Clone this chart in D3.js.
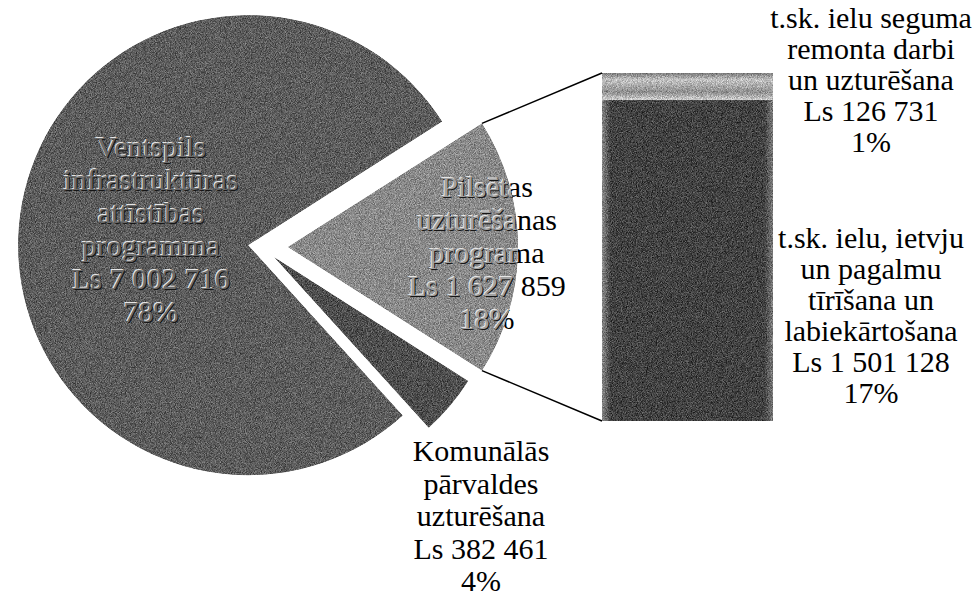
<!DOCTYPE html>
<html>
<head>
<meta charset="utf-8">
<script src="https://cdn.jsdelivr.net/npm/d3@7"></script>
<style>
  html, body { margin: 0; padding: 0; background: #fff; }
  svg { display: block; }
</style>
</head>
<body>
<div id="chart"></div>
<script>
// pie data (order = drawing order, starting with the split-off slice on the right)
const pieNames = ["Pilsētas uzturēšanas programa", "Komunālās pārvaldes uzturēšana", "Ventspils infrastruktūras attīstības programma"];
const pieValues = [1627859, 382461, 7002716];
const pieLabels = [
    ["Pilsētas", "uzturēšanas", "programa", "Ls 1 627 859", "18%"],
    ["Komunālās", "pārvaldes", "uzturēšana", "Ls 382 461", "4%"],
    ["Ventspils", "infrastruktūras", "attīstības", "programma", "Ls 7 002 716", "78%"]
];

// bar (breakdown of the Pilsētas slice), bottom to top
const barNames = ["t.sk. ielu, ietvju un pagalmu tīrīšana un labiekārtošana", "t.sk. ielu seguma remonta darbi un uzturēšana"];
const barValues = [1501128, 126731];
const barLabels = [
    ["t.sk. ielu, ietvju", "un pagalmu", "tīrīšana un", "labiekārtošana", "Ls 1 501 128", "17%"],
    ["t.sk. ielu seguma", "remonta darbi", "un uzturēšana", "Ls 126 731", "1%"]
];

const width = 973, height = 597;
const cx = 262, cy = 247, radius = 230;
const explode = [26, 16, 14];
const sliceFill = ["#898989", "#4e4e4e", "#5c5c5c"];

const svg = d3.select("#chart").append("svg").attr("width", width).attr("height", height);
const defs = svg.append("defs");

// grainy look of the scanned original
const grain = defs.append("filter").attr("id", "grain")
    .attr("color-interpolation-filters", "sRGB")
    .attr("x", 0).attr("y", 0).attr("width", 1).attr("height", 1);
grain.append("feTurbulence").attr("type", "fractalNoise").attr("baseFrequency", 1.2).attr("numOctaves", 1).attr("seed", 3).attr("result", "noise");
grain.append("feColorMatrix").attr("in", "noise").attr("type", "matrix")
    .attr("values", "1 0 0 0 0  1 0 0 0 0  1 0 0 0 0  0 0 0 0 1").attr("result", "gray");
grain.append("feComposite").attr("in", "SourceGraphic").attr("in2", "gray").attr("operator", "arithmetic")
    .attr("k1", 0).attr("k2", 1).attr("k3", 0.7).attr("k4", -0.35).attr("result", "mix");
grain.append("feComposite").attr("in", "mix").attr("in2", "SourceGraphic").attr("operator", "in");

// split-off slice centered on the right horizontal
const total = d3.sum(pieValues);
const splitAngle = 2 * Math.PI * pieValues[0] / total;
const start = Math.PI / 2 - splitAngle / 2;
const pie = d3.pie().sort(null).value(d => d).startAngle(start).endAngle(start + 2 * Math.PI);
const arcs = pie(pieValues);
const arc = d3.arc().innerRadius(0).outerRadius(radius);

function offset(d, i) {
    const mid = (d.startAngle + d.endAngle) / 2;
    return [cx + explode[i] * Math.sin(mid), cy - explode[i] * Math.cos(mid)];
}

const slices = svg.append("g");
arcs.forEach((d, i) => {
    const [ox, oy] = offset(d, i);
    defs.append("clipPath").attr("id", "clip" + i)
        .append("path").attr("d", arc(d)).attr("transform", `translate(${ox},${oy})`);
    slices.append("path")
        .attr("d", arc(d))
        .attr("transform", `translate(${ox},${oy})`)
        .attr("fill", sliceFill[i])
        .attr("filter", "url(#grain)");
});

// bar
const barX0 = 602, barX1 = 773;
const y = d3.scaleLinear().domain([0, d3.sum(barValues)]).range([421, 73]);
const cum = d3.cumsum(barValues);

const gBar = defs.append("linearGradient").attr("id", "barSide");
[[0, "#8a8a8a"], [0.05, "#424242"], [0.95, "#424242"], [1, "#7a7a7a"]].forEach(([o, c]) =>
    gBar.append("stop").attr("offset", o).attr("stop-color", c));
const gTop = defs.append("linearGradient").attr("id", "barTop").attr("x1", 0).attr("y1", 0).attr("x2", 0).attr("y2", 1);
[[0, "#7a7a7a"], [0.25, "#c4c4c4"], [0.7, "#8e8e8e"], [1, "#d0d0d0"]].forEach(([o, c]) =>
    gTop.append("stop").attr("offset", o).attr("stop-color", c));

const barFill = ["url(#barSide)", "url(#barTop)"];
barValues.forEach((v, i) => {
    svg.append("rect")
        .attr("x", barX0)
        .attr("y", y(cum[i]))
        .attr("width", barX1 - barX0)
        .attr("height", y(cum[i] - v) - y(cum[i]))
        .attr("fill", barFill[i])
        .attr("filter", "url(#grain)");
});

// connector lines from the split slice to the bar
const s0 = arcs[0];
const [sx, sy] = offset(s0, 0);
const cTop = [sx + radius * Math.sin(s0.startAngle), sy - radius * Math.cos(s0.startAngle)];
const cBot = [sx + radius * Math.sin(s0.endAngle), sy - radius * Math.cos(s0.endAngle)];
svg.append("line").attr("x1", cTop[0]).attr("y1", cTop[1]).attr("x2", barX0).attr("y2", y(d3.sum(barValues)))
    .attr("stroke", "#000").attr("stroke-width", 1.5);
svg.append("line").attr("x1", cBot[0]).attr("y1", cBot[1]).attr("x2", barX0).attr("y2", y(0))
    .attr("stroke", "#000").attr("stroke-width", 1.5);

// labels: one <text> per line so the font is set on every glyph run
function lines(g, list, x, y0, lh, fill) {
    list.forEach((s, k) => {
        g.append("text")
            .attr("x", x)
            .attr("y", y0 + k * lh)
            .attr("text-anchor", "middle")
            .attr("font-family", "Liberation Serif")
            .attr("font-size", 30)
            .attr("fill", fill)
            .text(s);
    });
}
function embossed(g, list, x, y0, lh, base) {
    lines(g, list, x - 0.9, y0 - 0.9, lh, "#e6e6e6");
    lines(g, list, x + 0.9, y0 + 0.9, lh, "#151515");
    lines(g, list, x, y0, lh, base);
}

const labels = svg.append("g");
// big slice: fully inside, embossed
embossed(labels, pieLabels[2], 151, 157, 33, "#6a6a6a");
// split slice label: black outside, embossed where it sits on the slice
lines(labels, pieLabels[0], 487, 197, 33, "#000");
embossed(labels.append("g").attr("clip-path", "url(#clip0)"), pieLabels[0], 487, 197, 33, "#a0a0a0");
// small slice label below
lines(labels, pieLabels[1], 481, 461, 32.5, "#000");
// bar labels
lines(labels, barLabels[1], 871, 28, 31, "#000");
lines(labels, barLabels[0], 871, 248, 31, "#000");
</script>
</body>
</html>
